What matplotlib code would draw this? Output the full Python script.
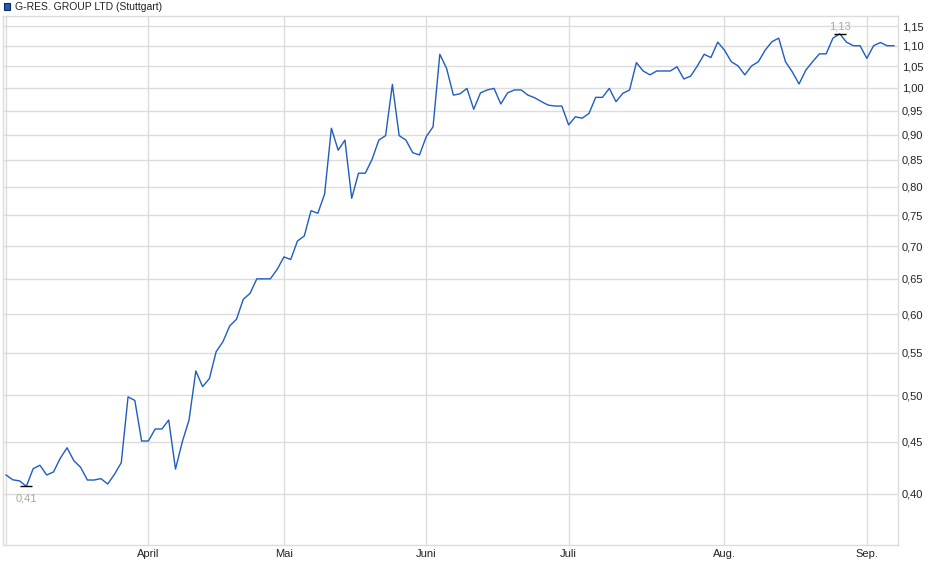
import matplotlib
matplotlib.use("Agg")
import matplotlib.pyplot as plt
from matplotlib.ticker import FixedLocator, NullLocator, FuncFormatter
from matplotlib.patches import Rectangle

plt.rcParams['font.family'] = ['Liberation Sans', 'DejaVu Sans']

title = "G-RES. GROUP LTD (Stuttgart)"

# trading-day closing prices (Stuttgart), one value per trading day
prices = [
    0.4175, 0.413, 0.412, 0.407, 0.4235, 0.4268, 0.4175, 0.4204, 0.4336, 0.444,
    0.4312, 0.4248, 0.4128, 0.4128, 0.4141, 0.4091, 0.4182, 0.4293, 0.498, 0.494,
    0.4508, 0.4508, 0.4632, 0.4632, 0.4727, 0.4231, 0.4499, 0.4727, 0.528, 0.5096,
    0.519, 0.5515, 0.564, 0.5845, 0.5933, 0.6207, 0.629, 0.65, 0.65, 0.65,
    0.664, 0.683, 0.679, 0.708, 0.716, 0.758, 0.7537, 0.787, 0.913, 0.869,
    0.889, 0.7796, 0.825, 0.825, 0.851, 0.889, 0.898, 1.008, 0.898, 0.889,
    0.864, 0.8597, 0.896, 0.916, 1.079, 1.045, 0.984, 0.987, 0.999, 0.953,
    0.989, 0.9955, 0.999, 0.9645, 0.989, 0.9955, 0.9955, 0.984, 0.978, 0.9695,
    0.962, 0.960, 0.960, 0.920, 0.937, 0.934, 0.944, 0.979, 0.979, 0.999,
    0.9695, 0.988, 0.9955, 1.059, 1.039, 1.030, 1.039, 1.039, 1.039, 1.049,
    1.0205, 1.027, 1.051, 1.079, 1.071, 1.109, 1.089, 1.061, 1.051, 1.030,
    1.051, 1.061, 1.089, 1.110, 1.119, 1.061, 1.037, 1.009, 1.041, 1.061,
    1.080, 1.080, 1.119, 1.130, 1.109, 1.100, 1.100, 1.069, 1.100, 1.108,
    1.100, 1.100,
]

# first trading day of each month (index into prices) and labels
month_idx = [0, 21, 41, 62, 83, 106, 127]
month_labels = ["", "April", "Mai", "Juni", "Juli", "Aug.", "Sep."]

y_ticks = [0.40, 0.45, 0.50, 0.55, 0.60, 0.65, 0.70, 0.75, 0.80, 0.85,
           0.90, 0.95, 1.00, 1.05, 1.10, 1.15]

min_label = "0,41"
max_label = "1,13"

W, H = 940, 579
fig = plt.figure(figsize=(W / 100, H / 100), dpi=100)
ax = fig.add_axes([3 / W, (H - 545) / H, (898 - 3) / W, (545 - 16) / H])

x = list(range(len(prices)))
grid_c = "#dcdcdc"
line_c = "#1f5cc0"

ax.set_yscale("log")
ax.set_ylim(0.3565, 1.1763)
ax.set_xlim(-0.45, 131.6)

ax.yaxis.set_major_locator(FixedLocator(y_ticks))
ax.yaxis.set_minor_locator(NullLocator())
ax.yaxis.set_major_formatter(FuncFormatter(lambda v, p: f"{v:.2f}".replace(".", ",")))
ax.xaxis.set_major_locator(FixedLocator(month_idx))
ax.xaxis.set_minor_locator(NullLocator())
ax.set_xticklabels(month_labels)

ax.yaxis.tick_right()
ax.tick_params(axis="y", length=0, pad=2.8, labelsize=8, labelcolor="#222222")
ax.tick_params(axis="x", length=0, pad=3, labelsize=8, labelcolor="#222222")

ax.grid(True, color=grid_c, linewidth=1.0)
ax.set_axisbelow(True)
for s in ax.spines.values():
    s.set_color(grid_c)
    s.set_linewidth(1.0)

ax.plot(x, prices, color=line_c, linewidth=1.0, zorder=3)

# min / max markers
imin = prices.index(min(prices))
imax = prices.index(max(prices))
ax.plot([imin], [prices[imin]], marker="_", markersize=9, color="black",
        markeredgewidth=1.0, zorder=4)
ax.plot([imax], [prices[imax]], marker="_", markersize=9, color="black",
        markeredgewidth=1.0, zorder=4)
ax.annotate(min_label, (imin, prices[imin]), xytext=(0, -5), textcoords="offset points",
            ha="center", va="top", fontsize=8, color="#b0a898")
ax.annotate(max_label, (imax, prices[imax]), xytext=(0, 2), textcoords="offset points",
            ha="center", va="bottom", fontsize=8, color="#b0a898")

# title with colour square
fig.patches.append(Rectangle((3.5 / W, (H - 9.5) / H), 6.5 / W, 6.5 / H,
                             transform=fig.transFigure, facecolor="#1f5cc0",
                             edgecolor="#0a2a60", linewidth=0.8))
fig.text(15 / W, (H - 6.5) / H, title, ha="left", va="center", fontsize=7.5,
         color="#222222")

fig.savefig("out.png", dpi=100)
